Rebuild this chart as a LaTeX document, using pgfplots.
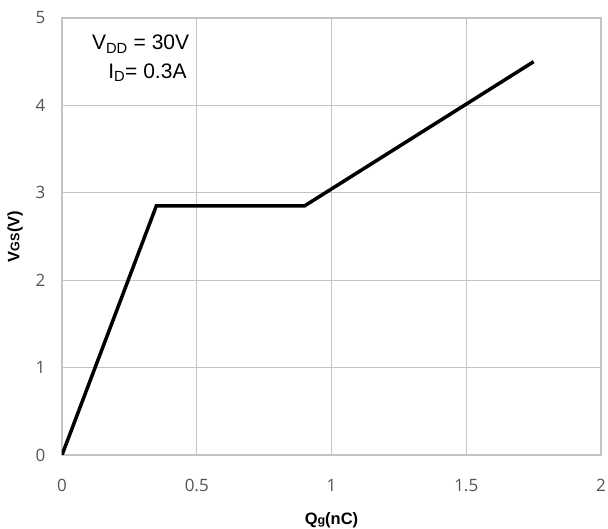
\documentclass[border=0pt]{standalone}
\usepackage{pgfplots}
\pgfplotsset{compat=1.18}
\usepackage{fontspec}
\setmainfont{Liberation Sans}
\newfontfamily\tickfont{Open Sans}
\definecolor{gridc}{HTML}{C4C4C4}
\definecolor{tickc}{HTML}{555555}
\begin{document}
\begin{tikzpicture}
\useasboundingbox (-62pt,-74pt) rectangle (546pt,455pt);
\begin{axis}[
  scale only axis,
  width=539pt, height=437pt,
  xmin=0, xmax=2, ymin=0, ymax=5,
  xtick={0,0.5,...,2}, ytick={0,1,...,5},
  grid=major,
  major grid style={gridc, line width=1.3pt},
  axis line style={gridc, line width=1.3pt},
  major tick length=0pt,
  /pgf/number format/assume math mode=true,
  tick label style={font=\fontsize{17}{19}\selectfont\tickfont, text=tickc},
  xticklabel style={yshift=-21pt},
  yticklabel style={xshift=-13pt},
  xlabel={\bfseries Q{\fontsize{12.5}{14}\selectfont g}(nC)},
  ylabel={\bfseries V{\fontsize{12.5}{14}\selectfont GS}(V)},
  label style={font=\fontsize{16.5}{18}\selectfont},
  xlabel style={at={(axis description cs:0.5,0)}, anchor=center, yshift=-65pt},
  ylabel style={at={(axis description cs:0,0.5)}, anchor=center, yshift=47pt},
]
\addplot[black, line width=3.5pt, line join=miter] coordinates {(0,0) (0.35,2.85) (0.9,2.85) (1.75,4.5)};
\node[anchor=west, inner sep=0pt, font=\fontsize{21}{24}\selectfont] at (axis cs:0.111,4.70) {V\textsubscript{DD} = 30V};
\node[anchor=west, inner sep=0pt, font=\fontsize{21}{24}\selectfont] at (axis cs:0.171,4.37) {I\textsubscript{D}= 0.3A};
\end{axis}
\end{tikzpicture}
\end{document}
